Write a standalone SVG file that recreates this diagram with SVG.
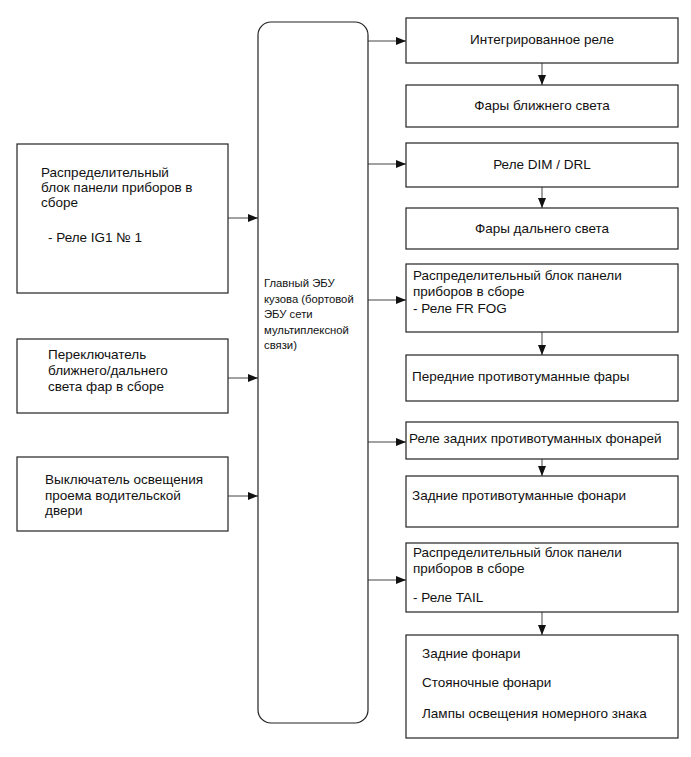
<svg xmlns="http://www.w3.org/2000/svg" width="691" height="757" viewBox="0 0 691 757">
<style>
.box{fill:#fff;stroke:#222;stroke-width:1.2}
.t{font-family:"Liberation Sans",Arial,sans-serif;font-size:13.5px;fill:#111}
.s{font-size:11.3px}
.c{text-anchor:middle}
.ln{stroke:#444;stroke-width:1;fill:none;marker-end:url(#ah)}
</style>
<defs>
<marker id="ah" viewBox="0 0 10 8" refX="10" refY="4" markerWidth="10" markerHeight="8" markerUnits="userSpaceOnUse" orient="auto">
<path d="M0,0 L10,4 L0,8 Z" fill="#111"/>
</marker>
</defs>
<rect width="691" height="757" fill="#fff"/>
<g id="connectors">
<line class="ln" x1="228" y1="218" x2="258" y2="218"/>
<line class="ln" x1="228" y1="378" x2="258" y2="378"/>
<line class="ln" x1="228" y1="496" x2="258" y2="496"/>
<line class="ln" x1="368" y1="41" x2="406" y2="41"/>
<line class="ln" x1="368" y1="164" x2="406" y2="164"/>
<line class="ln" x1="368" y1="300" x2="406" y2="300"/>
<line class="ln" x1="368" y1="442" x2="406" y2="442"/>
<line class="ln" x1="368" y1="580" x2="406" y2="580"/>
<line class="ln" x1="542" y1="63" x2="542" y2="85"/>
<line class="ln" x1="542" y1="187" x2="542" y2="208"/>
<line class="ln" x1="542" y1="332" x2="542" y2="355"/>
<line class="ln" x1="542" y1="459" x2="542" y2="476"/>
<line class="ln" x1="542" y1="612" x2="542" y2="635"/>
</g>
<g id="ecu">
<rect class="box" x="258" y="22" width="110" height="701" rx="13" ry="13"/>
<text class="t s" x="264"><tspan x="264" y="287">Главный ЭБУ</tspan><tspan x="264" y="303">кузова (бортовой</tspan><tspan x="264" y="318">ЭБУ сети</tspan><tspan x="264" y="334">мультиплексной</tspan><tspan x="264" y="349">связи)</tspan></text>
</g>
<g id="left1">
<rect class="box" x="17" y="144" width="211" height="149"/>
<text class="t"><tspan x="41" y="177">Распределительный</tspan><tspan x="41" y="192">блок панели приборов в</tspan><tspan x="41" y="207">сборе</tspan><tspan x="48" y="242">- Реле IG1 № 1</tspan></text>
</g>
<g id="left2">
<rect class="box" x="17" y="339" width="211" height="74"/>
<text class="t"><tspan x="48" y="359">Переключатель</tspan><tspan x="48" y="375">ближнего/дальнего</tspan><tspan x="48" y="391">света фар в сборе</tspan></text>
</g>
<g id="left3">
<rect class="box" x="17" y="457" width="211" height="74"/>
<text class="t"><tspan x="45" y="484">Выключатель освещения</tspan><tspan x="45" y="500">проема водительской</tspan><tspan x="45" y="515">двери</tspan></text>
</g>
<g id="r1">
<rect class="box" x="406" y="18" width="272" height="45"/>
<text class="t c" x="542" y="44">Интегрированное реле</text>
</g>
<g id="r2">
<rect class="box" x="406" y="85" width="272" height="42"/>
<text class="t c" x="542" y="110">Фары ближнего света</text>
</g>
<g id="r3">
<rect class="box" x="406" y="143" width="272" height="44"/>
<text class="t c" x="542" y="169">Реле DIM / DRL</text>
</g>
<g id="r4">
<rect class="box" x="406" y="208" width="272" height="41"/>
<text class="t c" x="542" y="233">Фары дальнего света</text>
</g>
<g id="r5">
<rect class="box" x="406" y="264" width="272" height="68"/>
<text class="t"><tspan x="413" y="280">Распределительный блок панели</tspan><tspan x="413" y="296">приборов в сборе</tspan><tspan x="413" y="313">- Реле FR FOG</tspan></text>
</g>
<g id="r6">
<rect class="box" x="406" y="355" width="272" height="46"/>
<text class="t" x="412" y="381">Передние противотуманные фары</text>
</g>
<g id="r7">
<rect class="box" x="406" y="422" width="272" height="37"/>
<text class="t" x="409" y="443">Реле задних противотуманных фонарей</text>
</g>
<g id="r8">
<rect class="box" x="406" y="476" width="272" height="51"/>
<text class="t" x="412" y="500">Задние противотуманные фонари</text>
</g>
<g id="r9">
<rect class="box" x="406" y="543" width="272" height="69"/>
<text class="t"><tspan x="413" y="557">Распределительный блок панели</tspan><tspan x="413" y="573">приборов в сборе</tspan><tspan x="413" y="602">- Реле TAIL</tspan></text>
</g>
<g id="r10">
<rect class="box" x="406" y="635" width="272" height="103"/>
<text class="t"><tspan x="422" y="658">Задние фонари</tspan><tspan x="422" y="687">Стояночные фонари</tspan><tspan x="422" y="718">Лампы освещения номерного знака</tspan></text>
</g>
</svg>
